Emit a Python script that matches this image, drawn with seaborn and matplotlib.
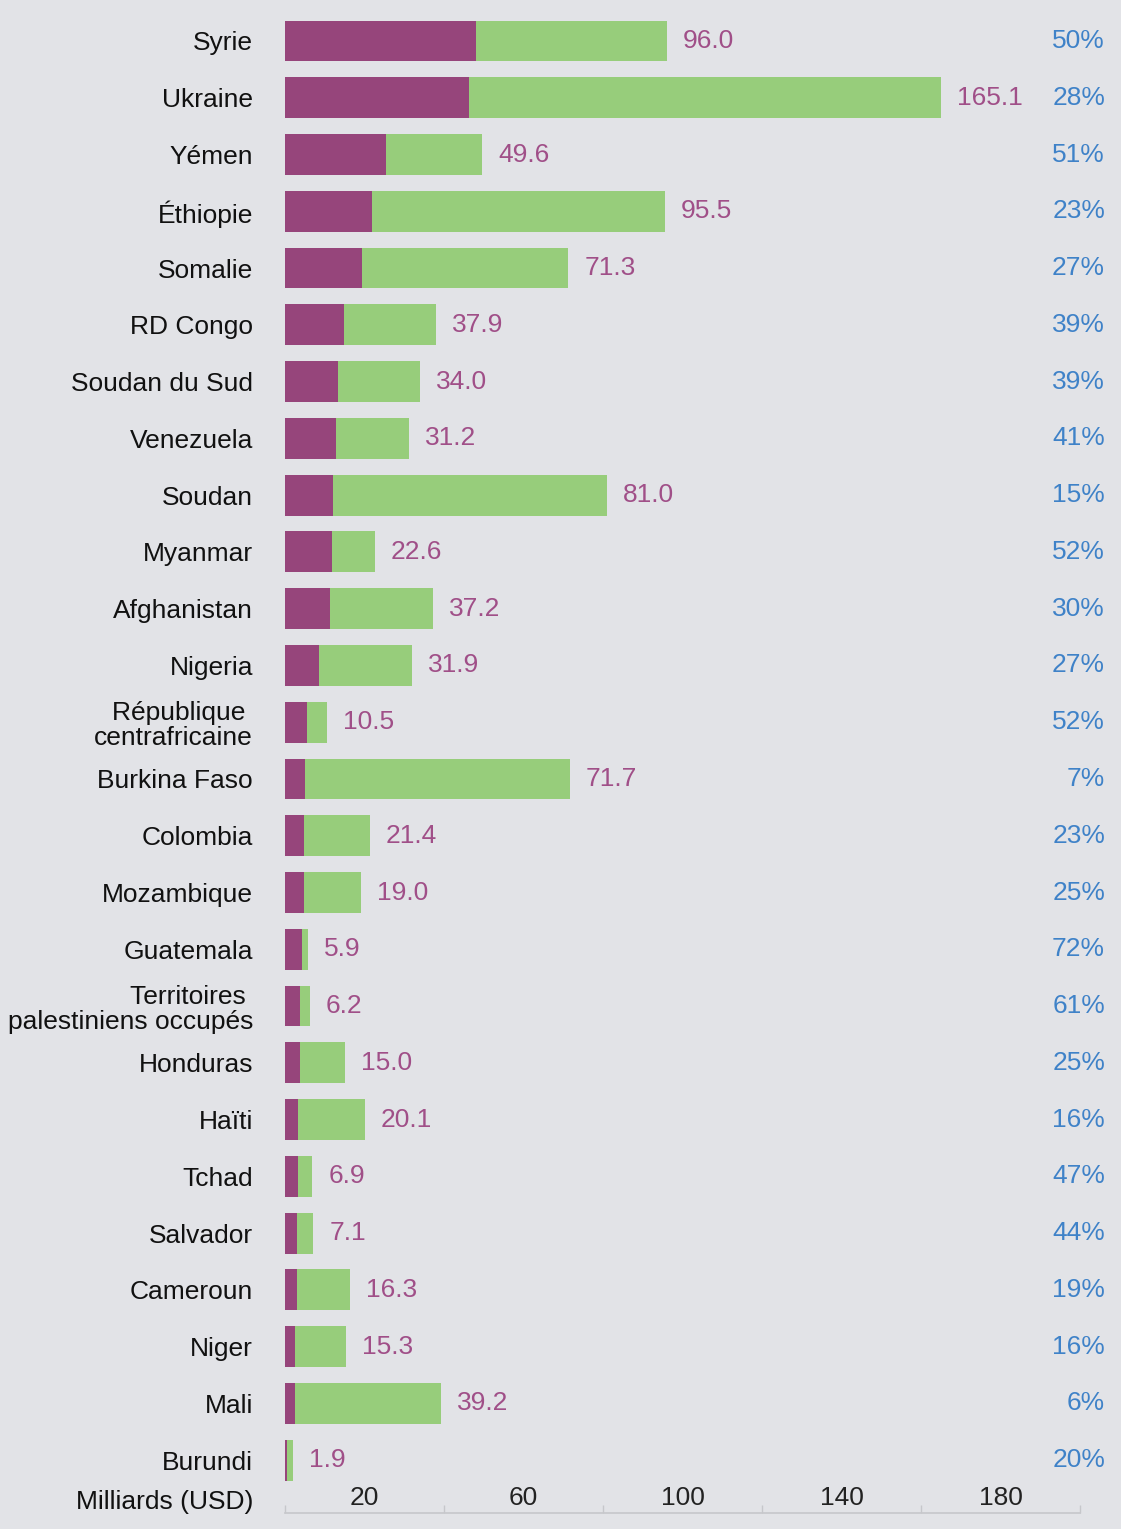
import matplotlib
matplotlib.use("Agg")
import matplotlib.pyplot as plt
import matplotlib.transforms as mtransforms
import seaborn as sns
import pandas as pd

countries = ["Syrie", "Ukraine", "Yémen", "Éthiopie", "Somalie", "RD Congo",
             "Soudan du Sud", "Venezuela", "Soudan", "Myanmar", "Afghanistan",
             "Nigeria", "République \ncentrafricaine", "Burkina Faso", "Colombia",
             "Mozambique", "Guatemala", "Territoires \npalestiniens occupés",
             "Honduras", "Haïti", "Tchad", "Salvador", "Cameroun", "Niger",
             "Mali", "Burundi"]
totals = [96.0, 165.1, 49.6, 95.5, 71.3, 37.9, 34.0, 31.2, 81.0, 22.6, 37.2,
          31.9, 10.5, 71.7, 21.4, 19.0, 5.9, 6.2, 15.0, 20.1, 6.9, 7.1, 16.3,
          15.3, 39.2, 1.9]
funded = [48.0, 46.2, 25.3, 22.0, 19.3, 14.8, 13.3, 12.8, 12.2, 11.8, 11.2,
          8.6, 5.5, 5.0, 4.9, 4.8, 4.2, 3.8, 3.8, 3.2, 3.2, 3.1, 3.1, 2.4,
          2.4, 0.4]
pct_labels = ["50%", "28%", "51%", "23%", "27%", "39%", "39%", "41%", "15%",
              "52%", "30%", "27%", "52%", "7%", "23%", "25%", "72%", "61%",
              "25%", "16%", "47%", "44%", "19%", "16%", "6%", "20%"]
axis_major = [0, 40, 80, 120, 160, 200]
axis_labels = [20, 60, 100, 140, 180]

BG = "#E2E3E7"
GREEN = "#97CD7B"
PURPLE = "#96457B"
VALC = "#A04F88"
BLUE = "#3F82C8"
AXC = "#C6C7CB"

df = pd.DataFrame({"pays": countries, "total": totals, "funded": funded})

sns.set_theme(style="white")
plt.rcParams["font.family"] = ["Liberation Sans", "DejaVu Sans"]

W, H = 1121, 1529
fig = plt.figure(figsize=(W / 100, H / 100), dpi=100, facecolor=BG)
left, right = 285, 1080
top, bottom = 12.6, 1513
ax = fig.add_axes([left / W, 1 - bottom / H, (right - left) / W, (bottom - top) / H])
ax.set_facecolor(BG)

sns.barplot(data=df, x="total", y="pays", color=GREEN, saturation=1,
            width=0.72, ax=ax, orient="h", linewidth=0)
sns.barplot(data=df, x="funded", y="pays", color=PURPLE, saturation=1,
            width=0.72, ax=ax, orient="h", linewidth=0)

ax.set_xlim(0, 200)
ax.set_ylim(25.93, -0.5)
ax.set_xlabel("")
ax.set_ylabel("")

for s in ["top", "right", "left"]:
    ax.spines[s].set_visible(False)
ax.spines["bottom"].set_color(AXC)
ax.spines["bottom"].set_linewidth(1.2)

ax.set_xticks(axis_major)
ax.set_xticklabels([])
ax.tick_params(axis="x", which="major", direction="in", length=6, width=1.0,
               color=AXC, bottom=True)
ax.set_xticks(axis_labels, minor=True)
ax.set_xticklabels([str(v) for v in axis_labels], minor=True)
ax.tick_params(axis="x", which="minor", length=0, pad=-19.5, labelsize=19,
               labelcolor="#222222")

ax.tick_params(axis="y", length=0, pad=23, labelsize=19, labelcolor="#111111")
for lab in ax.get_yticklabels():
    lab.set_linespacing(1.05)

off = mtransforms.offset_copy(ax.transData, fig=fig, x=16, y=0, units="dots")
for i, (t, v) in enumerate(zip(totals, totals)):
    ax.text(t, i, f"{v:.1f}", transform=off, ha="left", va="center",
            fontsize=19, color=VALC)

pt = mtransforms.blended_transform_factory(fig.transFigure, ax.transData)
for i, p in enumerate(pct_labels):
    ax.text(1105 / W, i, p, transform=pt, ha="right", va="center",
            fontsize=19, color=BLUE)

fig.text(253 / W, 1 - 1502 / H, "Milliards (USD)", ha="right", va="center",
         fontsize=19, color="#111111")

fig.savefig("out.png", dpi=100, facecolor=BG)
